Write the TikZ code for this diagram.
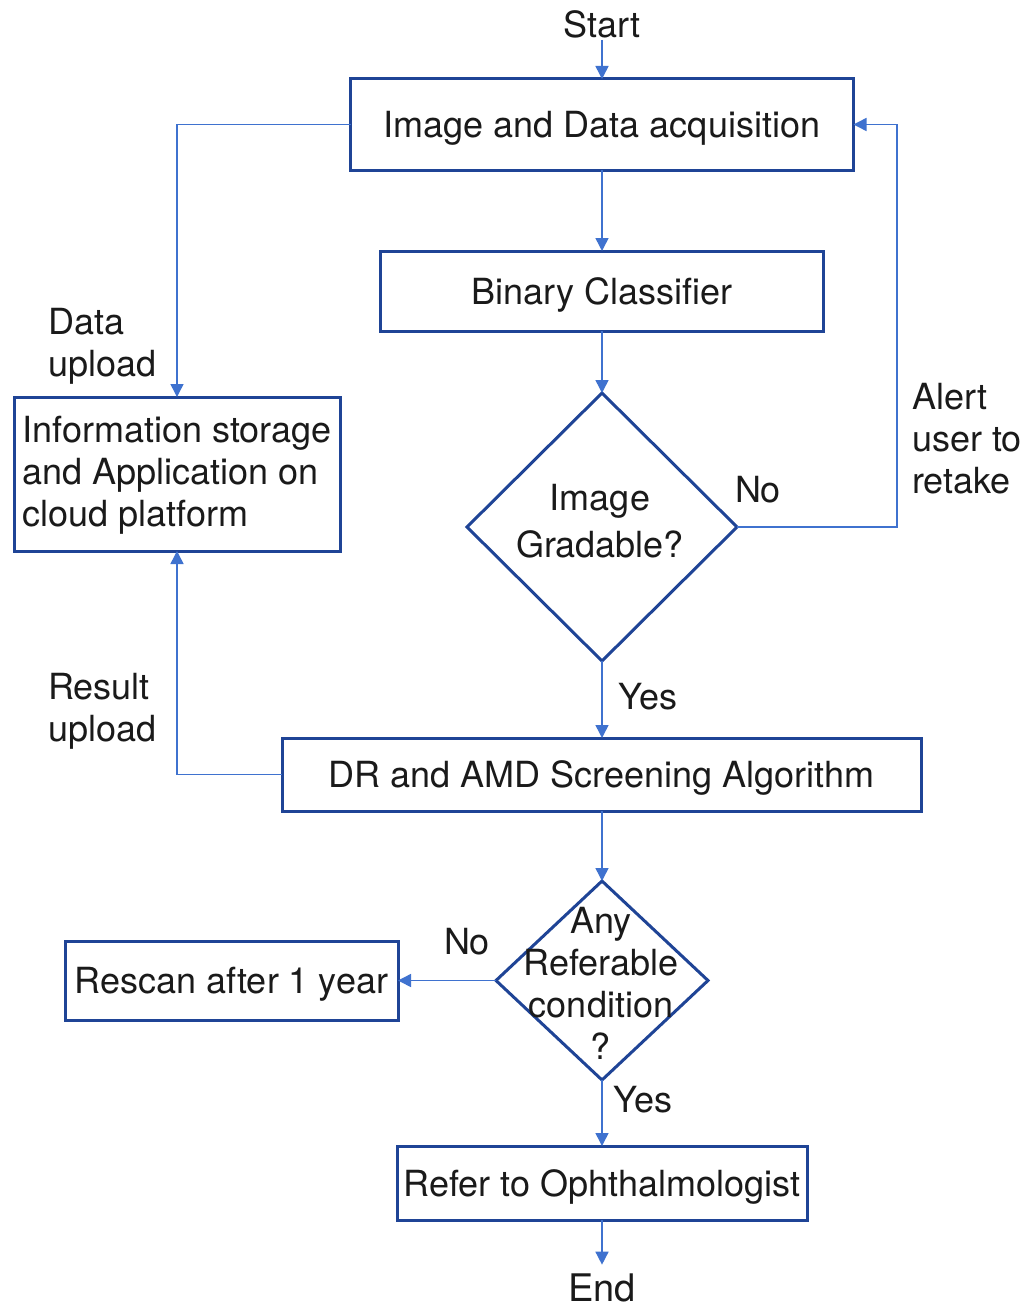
\documentclass[tikz,border=0pt]{standalone}
\usepackage{fontspec}
\setmainfont{TeX Gyre Heros}
\usetikzlibrary{arrows.meta,shapes.geometric}
\definecolor{boxblue}{HTML}{1F4496}
\definecolor{linkblue}{HTML}{3F72CF}
\definecolor{txt}{HTML}{1A1A1A}
\begin{document}
\begin{tikzpicture}[x=1pt,y=-1pt,
  every node/.style={font=\fontsize{36}{42}\selectfont, text=txt},
  box/.style={draw=boxblue, line width=3pt, inner sep=0pt, outer sep=0pt, align=center},
  onebox/.style={box, text height=26pt, text depth=0pt},
  dia/.style={draw=boxblue, line width=3pt, diamond, inner sep=0pt, outer sep=0pt},
  link/.style={draw=linkblue, line width=1.5pt, -{Triangle[width=13pt,length=13pt]}},
  lbl/.style={align=left, inner sep=0pt}]
\useasboundingbox[fill=white] (0,0) rectangle (1032,1311);

\node[inner sep=2pt] (start) at (602,24) {Start};
\node[onebox, minimum width=503, minimum height=91] (b1) at (602,124.5) {Image and Data acquisition};
\node[onebox, minimum width=443, minimum height=80] (b2) at (602,291) {Binary Classifier};
\node[dia, minimum width=270, minimum height=268] (d1) at (602,527) {};
\node[align=center, inner sep=0pt, font=\fontsize{36}{47}\selectfont] (d1t) at (600,521) {Image\\Gradable?};
\node[box, align=left, minimum width=326, minimum height=154] (store) at (177,474) {\rule{0pt}{28pt}Information storage\\and Application on\\cloud platform};
\node[onebox, minimum width=639, minimum height=73] (dr) at (601.5,774.5) {DR and AMD Screening Algorithm};
\node[dia, minimum width=212, minimum height=199] (d2) at (602,980.5) {};
\node[align=center, inner sep=0pt] (d2t) at (601,983) {Any\\Referable\\condition\\?};
\node[onebox, minimum width=333, minimum height=79] (rescan) at (231.5,980.5) {Rescan after 1 year};
\node[onebox, minimum width=410, minimum height=74] (refer) at (602,1183) {Refer to Ophthalmologist};
\node[inner sep=0pt, font=\fontsize{38}{45}\selectfont] (end) at (602,1288) {End};

\coordinate (rt) at (897,527);

\draw[link] (start.south) -- (start.south |- b1.north);
\draw[link] (b1.south) -- (b2.north);
\draw[link] (b2.south) -- (d1.north);
\draw[link] (b1.west) -| (store.north);
\draw[link] (d1.east) -- (rt) |- (b1.east);
\draw[link] (d1.south) -- (d1.south |- dr.north);
\draw[link] (dr.west) -| (store.south);
\draw[link] (d2.north |- dr.south) -- (d2.north);
\draw[link] (d2.west) -- (rescan.east);
\draw[link] (d2.south) -- (refer.north);
\draw[link] (refer.south) -- ([yshift=9pt]end.north);

\node[lbl, anchor=west] (l1) at (48,346) {Data\\upload};
\node[lbl, anchor=west] (l2) at (48,711) {Result\\upload};
\node[lbl, anchor=west] (l3) at (912,439) {Alert\\user to\\retake};
\node (n1) at (758,490) {No};
\node (y1) at (648,697) {Yes};
\node (n2) at (467,942) {No};
\node (y2) at (643,1100) {Yes};
\end{tikzpicture}
\end{document}
